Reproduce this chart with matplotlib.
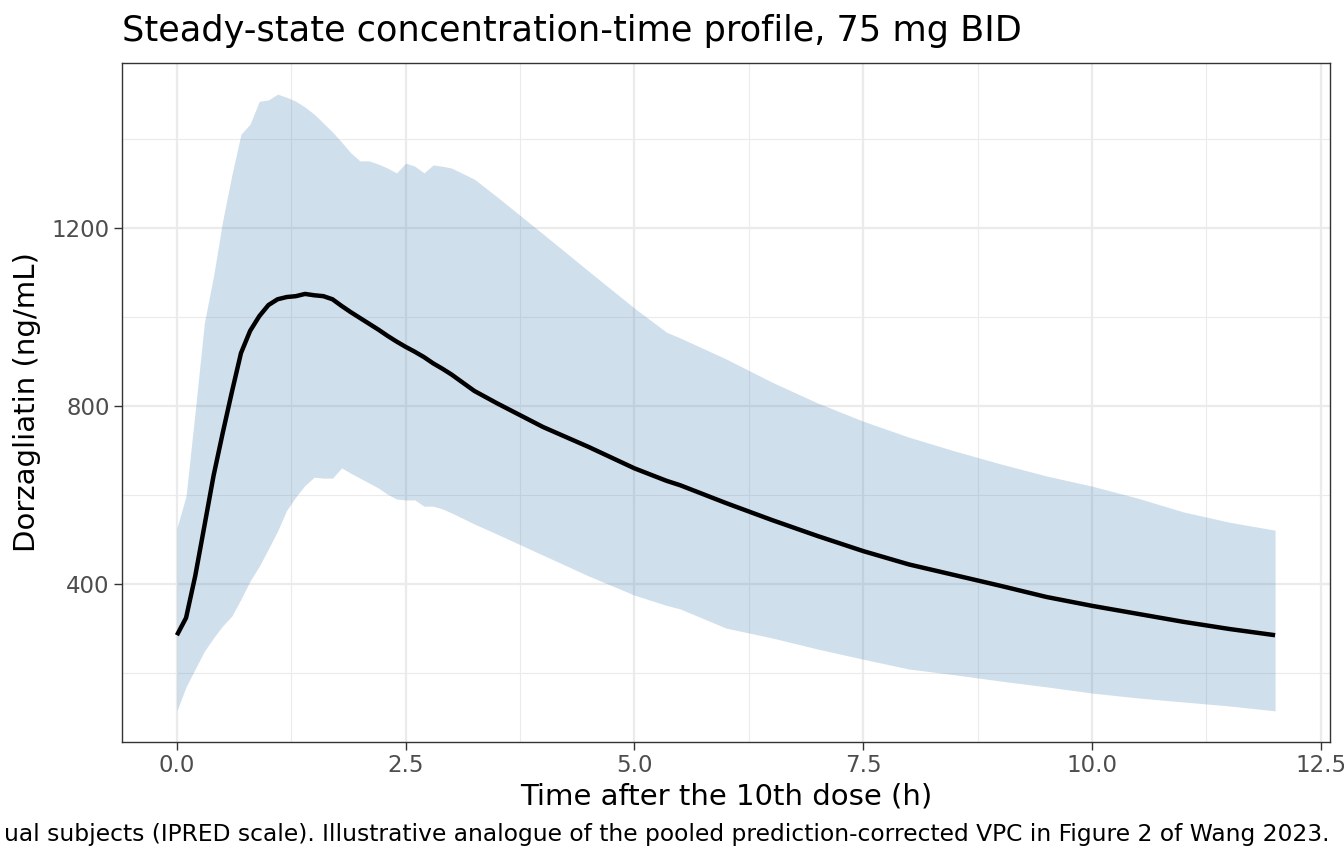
import matplotlib
matplotlib.use("Agg")
import matplotlib.pyplot as plt
from matplotlib.ticker import FixedLocator, FormatStrFormatter

# time after the 10th dose (h)
tempo = [0.0, 0.1, 0.2, 0.3, 0.4, 0.5, 0.6, 0.7, 0.8, 0.9,
         1.0, 1.1, 1.2, 1.3, 1.4, 1.5, 1.6, 1.7, 1.8, 1.9,
         2.0, 2.1, 2.2, 2.3, 2.4, 2.5, 2.6, 2.7, 2.8, 2.9,
         3.0, 3.25, 3.5, 4.0, 4.5, 5.0, 5.35, 5.5, 6.0, 6.5, 7.0,
         7.5, 8.0, 8.5, 9.0, 9.5, 10.0, 10.5, 11.0, 11.5, 12.0]

# median concentration (ng/mL)
mediana = [285, 324, 418, 530, 643, 739, 831, 919, 969, 1002,
           1027, 1040, 1045, 1047, 1052, 1049, 1047, 1040, 1025, 1011,
           998, 985, 972, 958, 945, 933, 922, 910, 896, 884,
           871, 834, 806, 753, 708, 660, 632, 622, 582, 544, 508,
           474, 444, 420, 396, 371, 351, 333, 315, 299, 285]

# upper limit of the shaded band
superior = [526, 598, 789, 987, 1092, 1216, 1319, 1411, 1434, 1485,
            1488, 1501, 1494, 1485, 1472, 1456, 1436, 1416, 1393, 1369,
            1351, 1351, 1344, 1335, 1324, 1346, 1339, 1324, 1342, 1339,
            1335, 1310, 1270, 1187, 1103, 1020, 966, 953, 906, 854, 807,
            766, 730, 699, 670, 643, 620, 593, 562, 539, 521]

# lower limit of the shaded band
inferior = [115, 169, 209, 249, 279, 306, 328, 366, 407, 440,
            479, 519, 566, 596, 622, 640, 638, 638, 661, 649,
            638, 627, 616, 602, 591, 589, 589, 575, 575, 569,
            560, 535, 512, 465, 418, 375, 352, 344, 301, 279, 254,
            231, 209, 196, 182, 169, 155, 144, 135, 126, 115]

ticks_x = [0.0, 2.5, 5.0, 7.5, 10.0, 12.5]
ticks_y = [400, 800, 1200]

titulo = "Steady-state concentration-time profile, 75 mg BID"
rotulo_x = "Time after the 10th dose (h)"
rotulo_y = "Dorzagliatin (ng/mL)"
legenda = ("ual subjects (IPRED scale). Illustrative analogue of the pooled "
           "prediction-corrected VPC in Figure 2 of Wang 2023.")

plt.rcParams['font.family'] = ['DejaVu Sans']

fig = plt.figure(figsize=(13.44, 8.64), dpi=100)
ax = fig.add_axes([122 / 1344, 1 - 742 / 864, (1330 - 122) / 1344, (742 - 63) / 864])

ax.fill_between(tempo, inferior, superior, color='steelblue', alpha=0.25,
                linewidth=0, zorder=2)
ax.plot(tempo, mediana, color='black', linewidth=3.2, zorder=3,
        solid_joinstyle='round', solid_capstyle='butt')

ax.set_xlim(-0.6, 12.6)
ax.set_ylim(45, 1571)
ax.xaxis.set_major_locator(FixedLocator(ticks_x))
ax.xaxis.set_major_formatter(FormatStrFormatter('%.1f'))
ax.xaxis.set_minor_locator(FixedLocator([1.25, 3.75, 6.25, 8.75, 11.25]))
ax.yaxis.set_major_locator(FixedLocator(ticks_y))
ax.yaxis.set_minor_locator(FixedLocator([200, 600, 1000, 1400]))

ax.grid(which='major', color='#EBEBEB', linewidth=1.6, zorder=0)
ax.grid(which='minor', color='#EBEBEB', linewidth=0.8, zorder=0)
ax.set_axisbelow(True)

ax.tick_params(which='major', length=5.5, width=1.0, color='#333333',
               labelsize=16.5, labelcolor='#4D4D4D', pad=3.5)
ax.tick_params(which='minor', length=0)
for lado in ax.spines.values():
    lado.set_color('#333333')
    lado.set_linewidth(1.0)

fig.text(122 / 1344, 1 - 41 / 864, titulo, fontsize=25.3, ha='left', va='baseline')
fig.text(726 / 1344, 1 - 797 / 864, rotulo_x, fontsize=21, ha='center', va='center')
fig.text(27 / 1344, 1 - 402 / 864, rotulo_y, fontsize=21, ha='center', va='center',
         rotation=90)
fig.text(1330 / 1344, 1 - 834 / 864, legenda, fontsize=16.8, ha='right', va='center')

fig.savefig('out.png', dpi=100)
